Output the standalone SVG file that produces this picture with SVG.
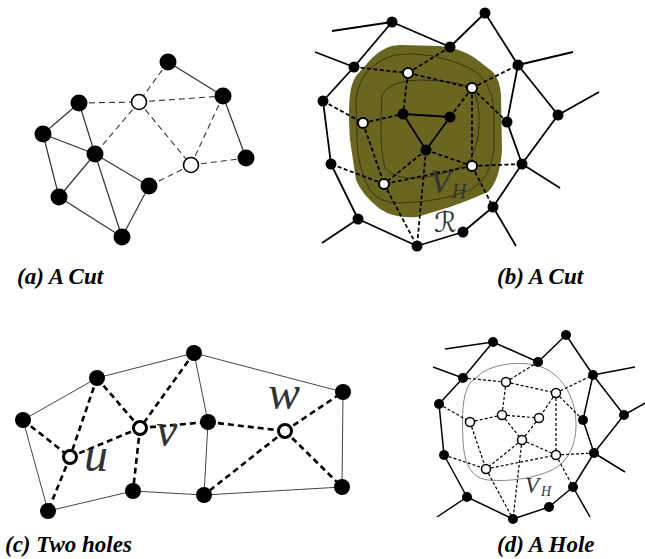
<svg xmlns="http://www.w3.org/2000/svg" width="645" height="559" viewBox="0 0 645 559">
<style>
.bk{fill:#000}
.wh{fill:#fff;stroke:#000}
.aS{stroke:#333;stroke-width:1.2;fill:none}
.aD{stroke:#333;stroke-width:1.1;stroke-dasharray:6 4;fill:none}
.bS{stroke:#000;stroke-width:1.8;fill:none}
.bD{stroke:#000;stroke-width:1.8;stroke-dasharray:4 2.5;fill:none}
.cS{stroke:#444;stroke-width:1;fill:none}
.cD{stroke:#000;stroke-width:2.6;stroke-dasharray:6 4;fill:none}
.dS{stroke:#000;stroke-width:1.5;fill:none}
.dD{stroke:#000;stroke-width:1.2;stroke-dasharray:3 2;fill:none}
.cap{font-weight:bold;font-style:italic;font-size:23px;fill:#000}
.math{font-style:italic;fill:#333}
</style>

<g id="region-b">
<path d="M356,76 L372,58 Q385,45 400,45 L440,46 Q460,48 475,58 L493,72 Q500,80 501,95 L502,150 Q500,180 488,192 Q470,200 450,207 L417,217 Q395,219 380,209 Q362,195 356,180 L350,140 Q348,110 350,95 Q351,84 356,76 Z" fill="#6a6622"/>
<path d="M356,100 Q360,65 395,55 Q430,50 470,68 Q492,80 494,110 L494,150 Q490,180 470,190 Q440,202 400,203 Q378,203 370,190 Q358,170 357,140 Z" fill="none" stroke="#2a2a10" stroke-width="0.8"/>
<path d="M382,95 Q390,80 420,80 Q455,80 472,88 Q480,100 479,125 Q478,150 468,162 Q450,175 420,178 Q395,180 385,168 Q380,150 381,120 Z" fill="none" stroke="#2a2a10" stroke-width="0.8"/>
</g>
<g id="hole-d">
<path d="M483,372 C500,362 530,360 548,370 C565,380 576,400 576,425 C576,445 568,462 552,470 C535,478 510,482 488,480 C470,478 464,462 463,440 C462,415 462,395 470,383 Z" fill="none" stroke="#777" stroke-width="0.9"/>
</g>

<g id="connectors">
<line class="aS" x1="79" y1="103" x2="43" y2="134"/>
<line class="aS" x1="79" y1="103" x2="95" y2="154"/>
<line class="aS" x1="43" y1="134" x2="95" y2="154"/>
<line class="aS" x1="43" y1="134" x2="59" y2="197"/>
<line class="aS" x1="95" y1="154" x2="59" y2="197"/>
<line class="aS" x1="95" y1="154" x2="122" y2="237"/>
<line class="aS" x1="95" y1="154" x2="149" y2="186"/>
<line class="aS" x1="59" y1="197" x2="122" y2="237"/>
<line class="aS" x1="149" y1="186" x2="122" y2="237"/>
<line class="aS" x1="168" y1="62" x2="223" y2="96"/>
<line class="aS" x1="223" y1="96" x2="246" y2="158"/>
<line class="aD" x1="79" y1="103" x2="139" y2="102"/>
<line class="aD" x1="168" y1="62" x2="139" y2="102"/>
<line class="aD" x1="139" y1="102" x2="95" y2="154"/>
<line class="aD" x1="139" y1="102" x2="223" y2="96"/>
<line class="aD" x1="139" y1="102" x2="191" y2="165"/>
<line class="aD" x1="223" y1="96" x2="191" y2="165"/>
<line class="aD" x1="191" y1="165" x2="246" y2="158"/>
<line class="aD" x1="191" y1="165" x2="149" y2="186"/>
<line class="bS" x1="332" y1="31" x2="392" y2="22"/>
<line class="bS" x1="392" y1="22" x2="354" y2="67"/>
<line class="bS" x1="392" y1="22" x2="450" y2="47"/>
<line class="bS" x1="450" y1="47" x2="485" y2="13"/>
<line class="bS" x1="485" y1="13" x2="518" y2="65"/>
<line class="bS" x1="315" y1="52" x2="354" y2="67"/>
<line class="bS" x1="354" y1="67" x2="323" y2="101"/>
<line class="bS" x1="323" y1="101" x2="331" y2="164"/>
<line class="bS" x1="331" y1="164" x2="358" y2="219"/>
<line class="bS" x1="358" y1="219" x2="322" y2="243"/>
<line class="bS" x1="358" y1="219" x2="417" y2="246"/>
<line class="bS" x1="417" y1="246" x2="463" y2="232"/>
<line class="bS" x1="463" y1="232" x2="493" y2="207"/>
<line class="bS" x1="493" y1="207" x2="516" y2="246"/>
<line class="bS" x1="493" y1="207" x2="522" y2="164"/>
<line class="bS" x1="522" y1="164" x2="560" y2="188"/>
<line class="bS" x1="522" y1="164" x2="558" y2="115"/>
<line class="bS" x1="558" y1="115" x2="599" y2="92"/>
<line class="bS" x1="558" y1="115" x2="518" y2="65"/>
<line class="bS" x1="518" y1="65" x2="573" y2="52"/>
<line class="bS" x1="518" y1="65" x2="507" y2="122"/>
<line class="bS" x1="507" y1="122" x2="522" y2="164"/>
<line class="bS" x1="403" y1="114" x2="450" y2="117"/>
<line class="bS" x1="403" y1="114" x2="426" y2="150"/>
<line class="bS" x1="450" y1="117" x2="426" y2="150"/>
<line class="bD" x1="450" y1="47" x2="408" y2="73"/>
<line class="bD" x1="354" y1="67" x2="408" y2="73"/>
<line class="bD" x1="408" y1="73" x2="472" y2="88"/>
<line class="bD" x1="408" y1="73" x2="403" y2="114"/>
<line class="bD" x1="472" y1="88" x2="518" y2="65"/>
<line class="bD" x1="472" y1="88" x2="450" y2="117"/>
<line class="bD" x1="472" y1="88" x2="507" y2="122"/>
<line class="bD" x1="472" y1="88" x2="472" y2="166"/>
<line class="bD" x1="323" y1="101" x2="363" y2="123"/>
<line class="bD" x1="363" y1="123" x2="403" y2="114"/>
<line class="bD" x1="363" y1="123" x2="384" y2="184"/>
<line class="bD" x1="426" y1="150" x2="472" y2="166"/>
<line class="bD" x1="426" y1="150" x2="384" y2="184"/>
<line class="bD" x1="426" y1="150" x2="417" y2="246"/>
<line class="bD" x1="472" y1="166" x2="384" y2="184"/>
<line class="bD" x1="384" y1="184" x2="331" y2="164"/>
<line class="bD" x1="384" y1="184" x2="417" y2="246"/>
<line class="bD" x1="472" y1="166" x2="493" y2="207"/>
<line class="bD" x1="472" y1="166" x2="522" y2="164"/>
<line class="cS" x1="23" y1="420" x2="97" y2="378"/>
<line class="cS" x1="97" y1="378" x2="194" y2="353"/>
<line class="cS" x1="194" y1="353" x2="343" y2="392"/>
<line class="cS" x1="343" y1="392" x2="342" y2="487"/>
<line class="cS" x1="342" y1="487" x2="204" y2="495"/>
<line class="cS" x1="204" y1="495" x2="133" y2="491"/>
<line class="cS" x1="133" y1="491" x2="48" y2="511"/>
<line class="cS" x1="48" y1="511" x2="23" y2="420"/>
<line class="cS" x1="194" y1="353" x2="208" y2="422"/>
<line class="cS" x1="208" y1="422" x2="204" y2="495"/>
<line class="cD" x1="23" y1="420" x2="70" y2="457"/>
<line class="cD" x1="97" y1="378" x2="70" y2="457"/>
<line class="cD" x1="70" y1="457" x2="48" y2="511"/>
<line class="cD" x1="70" y1="457" x2="140" y2="428"/>
<line class="cD" x1="97" y1="378" x2="140" y2="428"/>
<line class="cD" x1="194" y1="353" x2="140" y2="428"/>
<line class="cD" x1="140" y1="428" x2="133" y2="491"/>
<line class="cD" x1="140" y1="428" x2="208" y2="422"/>
<line class="cD" x1="208" y1="422" x2="285" y2="431"/>
<line class="cD" x1="285" y1="431" x2="343" y2="392"/>
<line class="cD" x1="285" y1="431" x2="342" y2="487"/>
<line class="cD" x1="285" y1="431" x2="204" y2="495"/>
<line class="dS" x1="445" y1="349" x2="493" y2="342"/>
<line class="dS" x1="493" y1="342" x2="463" y2="378"/>
<line class="dS" x1="493" y1="342" x2="538" y2="362"/>
<line class="dS" x1="538" y1="362" x2="566" y2="335"/>
<line class="dS" x1="566" y1="335" x2="593" y2="375"/>
<line class="dS" x1="593" y1="375" x2="635" y2="367"/>
<line class="dS" x1="593" y1="375" x2="583" y2="420"/>
<line class="dS" x1="593" y1="375" x2="624" y2="415"/>
<line class="dS" x1="624" y1="415" x2="647" y2="402"/>
<line class="dS" x1="624" y1="415" x2="594" y2="453"/>
<line class="dS" x1="583" y1="420" x2="594" y2="453"/>
<line class="dS" x1="594" y1="453" x2="625" y2="472"/>
<line class="dS" x1="594" y1="453" x2="573" y2="487"/>
<line class="dS" x1="573" y1="487" x2="590" y2="517"/>
<line class="dS" x1="573" y1="487" x2="549" y2="507"/>
<line class="dS" x1="549" y1="507" x2="513" y2="519"/>
<line class="dS" x1="513" y1="519" x2="467" y2="497"/>
<line class="dS" x1="467" y1="497" x2="437" y2="517"/>
<line class="dS" x1="467" y1="497" x2="444" y2="455"/>
<line class="dS" x1="444" y1="455" x2="439" y2="404"/>
<line class="dS" x1="439" y1="404" x2="463" y2="378"/>
<line class="dS" x1="463" y1="378" x2="433" y2="367"/>
<line class="dD" x1="463" y1="378" x2="506" y2="382"/>
<line class="dD" x1="538" y1="362" x2="506" y2="382"/>
<line class="dD" x1="506" y1="382" x2="556" y2="393"/>
<line class="dD" x1="556" y1="393" x2="593" y2="375"/>
<line class="dD" x1="506" y1="382" x2="502" y2="415"/>
<line class="dD" x1="556" y1="393" x2="539" y2="418"/>
<line class="dD" x1="556" y1="393" x2="583" y2="420"/>
<line class="dD" x1="556" y1="393" x2="556" y2="455"/>
<line class="dD" x1="439" y1="404" x2="470" y2="422"/>
<line class="dD" x1="470" y1="422" x2="502" y2="415"/>
<line class="dD" x1="502" y1="415" x2="539" y2="418"/>
<line class="dD" x1="502" y1="415" x2="522" y2="440"/>
<line class="dD" x1="539" y1="418" x2="522" y2="440"/>
<line class="dD" x1="470" y1="422" x2="486" y2="469"/>
<line class="dD" x1="522" y1="440" x2="486" y2="469"/>
<line class="dD" x1="522" y1="440" x2="556" y2="455"/>
<line class="dD" x1="522" y1="440" x2="513" y2="519"/>
<line class="dD" x1="486" y1="469" x2="513" y2="519"/>
<line class="dD" x1="444" y1="455" x2="486" y2="469"/>
<line class="dD" x1="486" y1="469" x2="556" y2="455"/>
<line class="dD" x1="556" y1="455" x2="594" y2="453"/>
<line class="dD" x1="556" y1="455" x2="573" y2="487"/>
</g>

<g id="a1"><circle class="bk" cx="168" cy="62" r="8.5"/></g>
<g id="a2"><circle class="bk" cx="223" cy="96" r="8.5"/></g>
<g id="a3"><circle class="bk" cx="79" cy="103" r="8.5"/></g>
<g id="a4"><circle class="wh" cx="139" cy="102" r="7.5" stroke-width="1.6"/></g>
<g id="a5"><circle class="bk" cx="43" cy="134" r="8.5"/></g>
<g id="a6"><circle class="bk" cx="95" cy="154" r="8.5"/></g>
<g id="a7"><circle class="bk" cx="246" cy="158" r="8.5"/></g>
<g id="a8"><circle class="wh" cx="191" cy="165" r="7.5" stroke-width="1.6"/></g>
<g id="a9"><circle class="bk" cx="149" cy="186" r="8.5"/></g>
<g id="a10"><circle class="bk" cx="59" cy="197" r="8.5"/></g>
<g id="a11"><circle class="bk" cx="122" cy="237" r="8.5"/></g>

<g id="b1"><circle class="bk" cx="392" cy="22" r="5.5"/></g>
<g id="b2"><circle class="bk" cx="485" cy="13" r="5.5"/></g>
<g id="b3"><circle class="bk" cx="450" cy="47" r="5.5"/></g>
<g id="b4"><circle class="bk" cx="354" cy="67" r="5.5"/></g>
<g id="b5"><circle class="bk" cx="518" cy="65" r="5.5"/></g>
<g id="b6"><circle class="wh" cx="408" cy="73" r="5" stroke-width="2"/></g>
<g id="b7"><circle class="wh" cx="472" cy="88" r="5" stroke-width="2"/></g>
<g id="b8"><circle class="bk" cx="323" cy="101" r="5.5"/></g>
<g id="b9"><circle class="bk" cx="403" cy="114" r="5.5"/></g>
<g id="b10"><circle class="bk" cx="450" cy="117" r="5.5"/></g>
<g id="b11"><circle class="wh" cx="363" cy="123" r="5" stroke-width="2"/></g>
<g id="b12"><circle class="bk" cx="507" cy="122" r="5.5"/></g>
<g id="b13"><circle class="bk" cx="558" cy="115" r="5.5"/></g>
<g id="b14"><circle class="bk" cx="426" cy="150" r="5.5"/></g>
<g id="b15"><circle class="bk" cx="331" cy="164" r="5.5"/></g>
<g id="b16"><circle class="wh" cx="472" cy="166" r="5" stroke-width="2"/></g>
<g id="b17"><circle class="bk" cx="522" cy="164" r="5.5"/></g>
<g id="b18"><circle class="wh" cx="384" cy="184" r="5" stroke-width="2"/></g>
<g id="b19"><circle class="bk" cx="493" cy="207" r="5.5"/></g>
<g id="b20"><circle class="bk" cx="358" cy="219" r="5.5"/></g>
<g id="b21"><circle class="bk" cx="463" cy="232" r="5.5"/></g>
<g id="b22"><circle class="bk" cx="417" cy="246" r="5.5"/></g>

<g id="c1"><circle class="bk" cx="97" cy="378" r="8"/></g>
<g id="c2"><circle class="bk" cx="194" cy="353" r="8"/></g>
<g id="c3"><circle class="bk" cx="23" cy="420" r="8"/></g>
<g id="c4"><circle class="wh" cx="140" cy="428" r="6.5" stroke-width="3"/></g>
<g id="c5"><circle class="wh" cx="70" cy="457" r="6.5" stroke-width="3"/></g>
<g id="c6"><circle class="bk" cx="133" cy="491" r="8"/></g>
<g id="c7"><circle class="bk" cx="48" cy="511" r="8"/></g>
<g id="c8"><circle class="bk" cx="343" cy="392" r="8"/></g>
<g id="c9"><circle class="bk" cx="208" cy="422" r="8"/></g>
<g id="c10"><circle class="wh" cx="285" cy="431" r="6.5" stroke-width="3"/></g>
<g id="c11"><circle class="bk" cx="204" cy="495" r="8"/></g>
<g id="c12"><circle class="bk" cx="342" cy="487" r="8"/></g>

<g id="d1"><circle class="bk" cx="493" cy="342" r="5"/></g>
<g id="d2"><circle class="bk" cx="566" cy="335" r="5"/></g>
<g id="d3"><circle class="bk" cx="538" cy="362" r="5"/></g>
<g id="d4"><circle class="bk" cx="463" cy="378" r="5"/></g>
<g id="d5"><circle class="bk" cx="593" cy="375" r="5"/></g>
<g id="d6"><circle class="wh" cx="506" cy="382" r="4.5" stroke-width="1.5"/></g>
<g id="d7"><circle class="wh" cx="556" cy="393" r="4.5" stroke-width="1.5"/></g>
<g id="d8"><circle class="bk" cx="439" cy="404" r="5"/></g>
<g id="d9"><circle class="wh" cx="470" cy="422" r="4.5" stroke-width="1.5"/></g>
<g id="d10"><circle class="wh" cx="502" cy="415" r="4.5" stroke-width="1.5"/></g>
<g id="d11"><circle class="wh" cx="539" cy="418" r="4.5" stroke-width="1.5"/></g>
<g id="d12"><circle class="bk" cx="583" cy="420" r="5"/></g>
<g id="d13"><circle class="bk" cx="624" cy="415" r="5"/></g>
<g id="d14"><circle class="wh" cx="522" cy="440" r="4.5" stroke-width="1.5"/></g>
<g id="d15"><circle class="bk" cx="444" cy="455" r="5"/></g>
<g id="d16"><circle class="wh" cx="556" cy="455" r="4.5" stroke-width="1.5"/></g>
<g id="d17"><circle class="bk" cx="594" cy="453" r="5"/></g>
<g id="d18"><circle class="wh" cx="486" cy="469" r="4.5" stroke-width="1.5"/></g>
<g id="d19"><circle class="bk" cx="573" cy="487" r="5"/></g>
<g id="d20"><circle class="bk" cx="467" cy="497" r="5"/></g>
<g id="d21"><circle class="bk" cx="549" cy="507" r="5"/></g>
<g id="d22"><circle class="bk" cx="513" cy="519" r="5"/></g>

<g id="labels-math" font-family="Liberation Serif, DejaVu Serif, serif">
<text class="math" x="430" y="193" font-size="34">V</text>
<text class="math" x="452" y="198" font-size="20">H</text>
<text x="434" y="232" font-size="28" font-family="DejaVu Serif, DejaVu Sans, serif" fill="#333">ℛ</text>
<text class="math" x="84" y="471" font-size="48">u</text>
<text class="math" x="156" y="446" font-size="48">v</text>
<text class="math" x="268" y="409" font-size="48">w</text>
<text class="math" x="525" y="493" font-size="23">V</text>
<text class="math" x="541" y="496" font-size="14">H</text>
</g>

<g id="captions" font-family="Liberation Serif, DejaVu Serif, serif">
<text class="cap" x="17" y="284">(a) A Cut</text>
<text class="cap" x="497" y="284">(b) A Cut</text>
<text class="cap" x="5" y="552">(c) Two holes</text>
<text class="cap" x="497" y="552">(d) A Hole</text>
</g>
</svg>
